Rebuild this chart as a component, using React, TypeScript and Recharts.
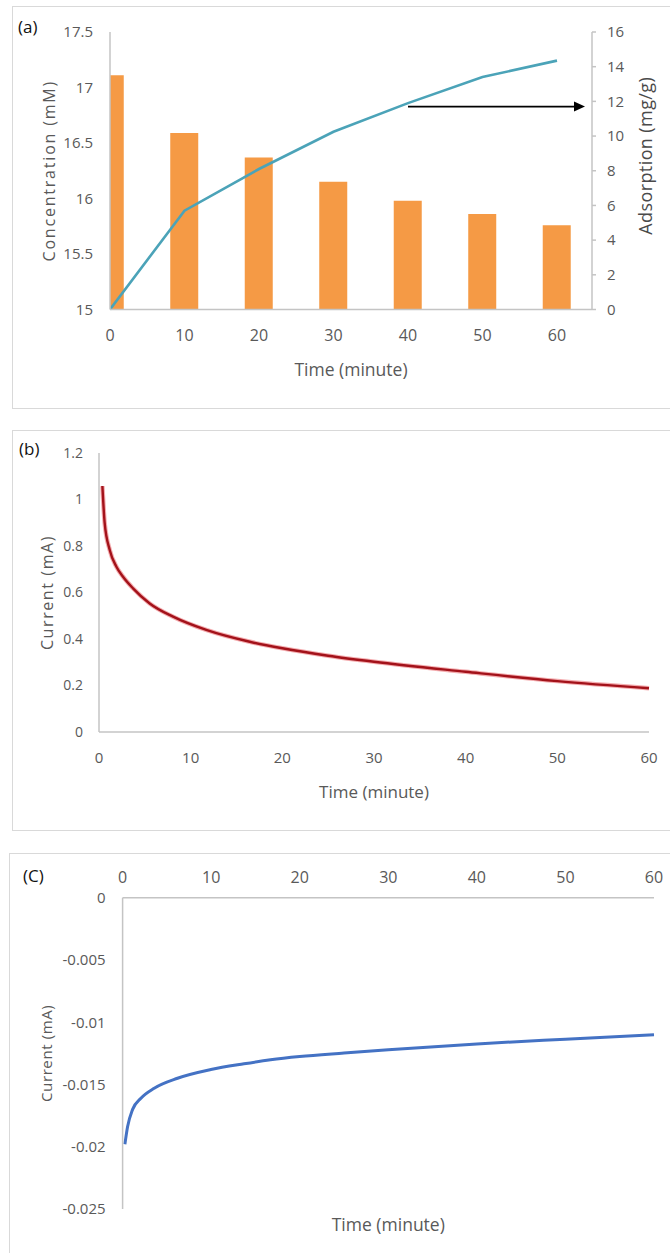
import React from "react";
import {
  ComposedChart,
  LineChart,
  Bar,
  Line,
  XAxis,
  YAxis,
  ReferenceLine,
} from "recharts";

// (a) concentration (bars, left axis) and adsorption (line, right axis) vs time
const timeA = [0, 10, 20, 30, 40, 50, 60];
const concentration = [17.11, 16.59, 16.37, 16.15, 15.98, 15.86, 15.76];
const adsorption = [0, 5.7, 8.1, 10.25, 11.9, 13.4, 14.35];
const concTicks = [15, 15.5, 16, 16.5, 17, 17.5];
const adsTicks = [0, 2, 4, 6, 8, 10, 12, 14, 16];
const timeTicks = [0, 10, 20, 30, 40, 50, 60];
// arrow pointing from the adsorption curve to its axis
const arrowStart = 40;
const arrowEnd = 63.76;
const arrowLevel = 11.7;

// (b) current decay
const timeB = [0.37, 0.62, 1.17, 1.9, 2.62, 3.71, 5.53, 8.08, 11.7, 16.45, 20, 25, 30, 40, 50, 60];
const currentB = [1.058, 0.898, 0.783, 0.711, 0.668, 0.618, 0.553, 0.496, 0.439, 0.388, 0.36, 0.328, 0.302, 0.259, 0.219, 0.188];
const currentBTicks = [0, 0.2, 0.4, 0.6, 0.8, 1, 1.2];

// (c) negative current recovery
const timeC = [0.26, 0.56, 1.13, 2.07, 3.57, 6.2, 9.97, 13.7, 16.7, 20, 25, 30, 40, 50, 60];
const currentC = [-0.0198, -0.0184, -0.017, -0.0161, -0.0153, -0.0145, -0.0138, -0.01334, -0.01302, -0.01276, -0.01248, -0.01222, -0.01174, -0.01136, -0.011];
const currentCTicks = [-0.025, -0.02, -0.015, -0.01, -0.005, 0];

const dataA = timeA.map((t, i) => ({ t, conc: concentration[i], ads: adsorption[i] }));
const dataB = timeB.map((t, i) => ({ t, i: currentB[i] }));
const dataC = timeC.map((t, i) => ({ t, i: currentC[i] }));

const SANS = "'Open Sans', 'Noto Sans', sans-serif";
const NARROW = "'Liberation Sans Narrow', 'Open Sans', sans-serif";
const TICK_COLOR = "#595959";
const AXIS_COLOR = "#C4C4C4";

const panelBox = (left: number, top: number, height: number): React.CSSProperties => ({
  position: "absolute",
  left,
  top,
  width: 700,
  height,
  border: "1.5px solid #D9D9D9",
  boxSizing: "border-box",
});

const panelTag = (left: number, top: number): React.CSSProperties => ({
  position: "absolute",
  left,
  top,
  fontFamily: SANS,
  fontSize: 17,
  lineHeight: "20px",
  color: "#111",
});

const Arrow = (props: any) => {
  const { x1, y1, x2, y2 } = props;
  return (
    <g>
      <line x1={x1} y1={y1} x2={x2 - 9} y2={y2} stroke="#000" strokeWidth={1.6} />
      <polygon points={`${x2},${y2} ${x2 - 11},${y2 - 5} ${x2 - 11},${y2 + 5}`} fill="#000" />
    </g>
  );
};

export default function App() {
  return (
    <div
      style={{
        position: "absolute",
        left: 0,
        top: 0,
        width: 670,
        height: 1253,
        overflow: "hidden",
        background: "#fff",
      }}
    >
      <div style={panelBox(12, 6, 403)} />
      <div style={panelBox(12, 430, 401)} />
      <div style={panelBox(9, 853, 460)} />

      {/* (a) */}
      <ComposedChart
        width={670}
        height={410}
        data={dataA}
        margin={{ top: 32, right: 8, bottom: 70.5, left: 50 }}
        style={{ position: "absolute", left: 0, top: 0 }}
      >
        <XAxis
          dataKey="t"
          type="number"
          domain={[0, 64.7]}
          ticks={timeTicks}
          allowDataOverflow
          height={30}
          stroke={AXIS_COLOR}
          strokeWidth={1.5}
          tickLine={false}
          tickSize={0}
          tickMargin={20.5}
          tick={{ fill: TICK_COLOR, fontSize: 16, fontFamily: SANS }}
          label={{
            value: "Time (minute)",
            position: "center",
            dy: 45.5,
            fill: TICK_COLOR,
            fontSize: 17.5,
            fontFamily: SANS,
          }}
        />
        <YAxis
          yAxisId="left"
          domain={[15, 17.5]}
          ticks={concTicks}
          width={60}
          stroke={AXIS_COLOR}
          strokeWidth={1.5}
          tickLine={false}
          tickSize={0}
          tickMargin={17}
          tick={{ fill: TICK_COLOR, fontSize: 15, fontFamily: SANS }}
          label={{
            value: "Concentration (mM)",
            angle: -90,
            position: "center",
            dx: -31,
            fill: TICK_COLOR,
            fontSize: 16,
            fontFamily: SANS,
            letterSpacing: 1.8,
          }}
        />
        <YAxis
          yAxisId="right"
          orientation="right"
          domain={[0, 16]}
          ticks={adsTicks}
          width={70}
          stroke={AXIS_COLOR}
          strokeWidth={1.5}
          tickSize={4}
          tickMargin={11}
          tick={{ fill: TICK_COLOR, fontSize: 15, fontFamily: NARROW }}
          label={{
            value: "Adsorption (mg/g)",
            angle: -90,
            position: "center",
            dx: 19,
            dy: -15,
            fill: "#4A4A4A",
            fontSize: 18,
            fontFamily: SANS,
            letterSpacing: 0.4,
          }}
        />
        <Bar
          yAxisId="left"
          dataKey="conc"
          fill="#F59A45"
          barSize={28}
          isAnimationActive={false}
        />
        <Line
          yAxisId="right"
          dataKey="ads"
          type="linear"
          stroke="#4BA3B8"
          strokeWidth={2.6}
          dot={false}
          isAnimationActive={false}
        />
        <ReferenceLine
          yAxisId="right"
          segment={[
            { x: arrowStart, y: arrowLevel },
            { x: arrowEnd, y: arrowLevel },
          ]}
          shape={Arrow}
        />
      </ComposedChart>
      <div style={panelTag(18, 17)}>(a)</div>

      {/* (b) */}
      <LineChart
        width={670}
        height={400}
        data={dataB}
        margin={{ top: 23, right: 21, bottom: 68, left: 39 }}
        style={{ position: "absolute", left: 0, top: 430 }}
      >
        <XAxis
          dataKey="t"
          type="number"
          domain={[0, 60]}
          ticks={timeTicks}
          height={30}
          stroke={AXIS_COLOR}
          strokeWidth={1.5}
          tickLine={false}
          tickSize={0}
          tickMargin={20.5}
          tick={{ fill: TICK_COLOR, fontSize: 15, fontFamily: SANS }}
          label={{
            value: "Time (minute)",
            position: "center",
            dy: 45,
            fill: TICK_COLOR,
            fontSize: 17,
            fontFamily: SANS,
          }}
        />
        <YAxis
          domain={[0, 1.2]}
          ticks={currentBTicks}
          width={60}
          stroke={AXIS_COLOR}
          strokeWidth={1.5}
          tickLine={false}
          tickSize={0}
          tickMargin={16}
          tick={{ fill: TICK_COLOR, fontSize: 14, fontFamily: SANS }}
          label={{
            value: "Current (mA)",
            angle: -90,
            position: "center",
            dx: -22,
            fill: TICK_COLOR,
            fontSize: 16,
            fontFamily: SANS,
            letterSpacing: 1.6,
          }}
        />
        <Line
          dataKey="i"
          type="monotone"
          stroke="#E9666B"
          strokeOpacity={0.55}
          strokeWidth={4.5}
          dot={false}
          isAnimationActive={false}
        />
        <Line
          dataKey="i"
          type="monotone"
          stroke="#A3121A"
          strokeWidth={2.4}
          dot={false}
          isAnimationActive={false}
        />
      </LineChart>
      <div style={panelTag(19, 439)}>(b)</div>

      {/* (c) */}
      <LineChart
        width={670}
        height={400}
        data={dataC}
        margin={{ top: 14.7, right: 16, bottom: 24, left: 62.6 }}
        style={{ position: "absolute", left: 0, top: 853 }}
      >
        <XAxis
          dataKey="t"
          type="number"
          orientation="top"
          domain={[0, 60]}
          ticks={timeTicks}
          height={30}
          stroke={AXIS_COLOR}
          strokeWidth={1.5}
          tickLine={false}
          tickSize={0}
          tickMargin={15}
          tick={{ fill: TICK_COLOR, fontSize: 16, fontFamily: SANS }}
        />
        <XAxis
          xAxisId="title"
          dataKey="t"
          type="number"
          orientation="bottom"
          domain={[0, 60]}
          height={20}
          axisLine={false}
          tickLine={false}
          tick={false}
          label={{
            value: "Time (minute)",
            position: "center",
            dy: 6,
            fill: TICK_COLOR,
            fontSize: 17.5,
            fontFamily: SANS,
          }}
        />
        <YAxis
          domain={[-0.025, 0]}
          ticks={currentCTicks}
          width={60}
          stroke={AXIS_COLOR}
          strokeWidth={1.5}
          tickLine={false}
          tickSize={0}
          tickMargin={17}
          tick={{ fill: TICK_COLOR, fontSize: 15, fontFamily: SANS }}
          label={{
            value: "Current (mA)",
            angle: -90,
            position: "center",
            dx: -45.6,
            fill: TICK_COLOR,
            fontSize: 15,
            fontFamily: SANS,
            letterSpacing: 0.6,
          }}
        />
        <Line
          dataKey="i"
          type="monotone"
          stroke="#4472C4"
          strokeWidth={3}
          dot={false}
          isAnimationActive={false}
        />
      </LineChart>
      <div style={panelTag(23, 866)}>(C)</div>
    </div>
  );
}
